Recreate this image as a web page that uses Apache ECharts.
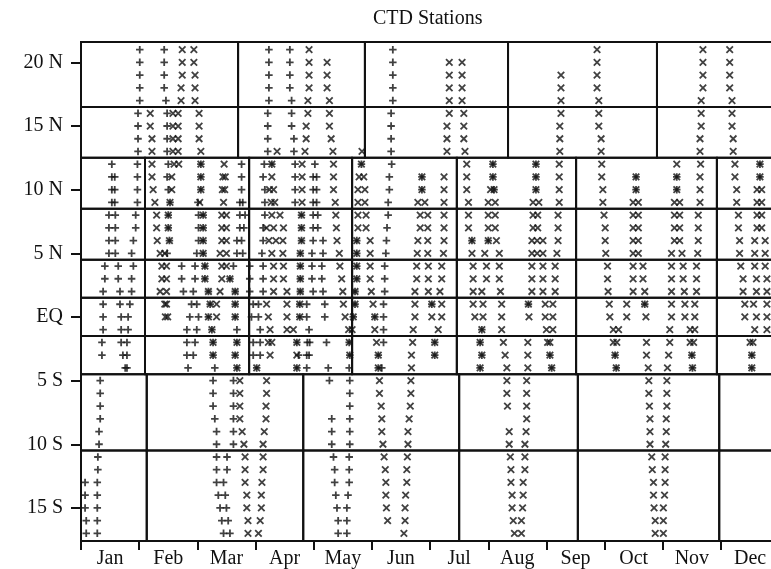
<!DOCTYPE html>
<html>
<head>
<meta charset="utf-8">
<script src="https://cdn.jsdelivr.net/npm/echarts@6/dist/echarts.min.js"></script>
<style>
  html, body { margin: 0; padding: 0; background: #ffffff; }
  #chart { width: 771px; height: 569px; }
</style>
</head>
<body>
<div id="chart"></div>
<script>
// Month names along the time axis (x in months from 1 January)
const months = ['Jan', 'Feb', 'Mar', 'Apr', 'May', 'Jun', 'Jul', 'Aug', 'Sep', 'Oct', 'Nov', 'Dec'];
// Latitude tick values (degrees, north positive)
const latTicks = [20, 15, 10, 5, 0, -5, -10, -15];
// Visible end of the time axis (the December column runs off the right edge)
const monthAxisEnd = 11.86;
// Latitude limits of the survey boxes, top to bottom
const bandEdges = [21.6, 16.5, 12.5, 8.5, 4.5, 1.5, -1.5, -4.5, -10.5, -17.6];
// Month positions of the box dividers in each latitude band
const northDividers = [2.70, 4.88, 7.34, 9.90];
const tropicDividers = [1.10, 2.89, 4.66, 6.46, 8.51, 10.93];
const southDividers = [1.13, 3.82, 6.50, 8.54, 10.97];
const bandDividers = [northDividers, northDividers, tropicDividers, tropicDividers,
  tropicDividers, tropicDividers, tropicDividers, southDividers, southDividers];

// '+' stations: [month, [latitudes]]
const plusStations = [
  // 12.5N - 21.5N
  [1.01, [21, 20, 19, 18, 17]], [0.98, [16, 15, 14, 13]],
  [1.43, [21, 20, 19, 18]], [1.46, [17]], [1.48, [16, 15, 14, 13]],
  [3.23, [21, 20, 19, 18, 17]], [3.21, [16, 15, 14, 13]],
  [3.59, [21, 20, 19, 18]], [3.62, [17, 16, 15]], [3.66, [14, 13]],
  [5.36, [21, 20, 19, 18, 17]], [5.33, [16, 15, 14, 13]],
  // 4.5S - 12.5N, January box
  [0.53, [12, 11, 10, 9]], [0.48, [8, 7, 6, 5]], [0.41, [4, 3]], [0.38, [2, 1, 0, -1]], [0.36, [-2, -3]],
  [0.58, [11, 10, 9]], [0.59, [8, 7, 6, 5]], [0.64, [4, 3]], [0.67, [2, 1]], [0.69, [0, -1, -2]], [0.72, [-3]], [0.76, [-4]],
  [0.97, [12, 11, 10, 9]], [0.94, [8, 7]], [0.90, [6, 4]], [0.87, [5, 3, 2]], [0.84, [1]], [0.81, [0, -1]], [0.79, [-2, -3, -4]],
  // February - March box
  [1.50, [12, 10]], [1.48, [11, 5]], [1.53, [9]], [1.50, [8, 7]], [1.52, [6]],
  [2.06, [12, 11, 10]], [2.01, [9]], [2.02, [8, 7, 6]], [1.99, [5]], [1.96, [4, 3]], [1.93, [2]],
  [1.99, [1]], [2.02, [0]], [1.99, [-1]], [1.96, [-2]], [1.93, [-3]],
  [2.10, [8, 7, 6, 5]], [2.13, [4, 3]], [2.19, [2, 0]], [2.22, [1]], [2.25, [-1]], [2.27, [-2, -3]], [2.30, [-4]],
  [1.73, [4, 3]], [1.76, [2]], [1.90, [1]], [1.87, [0]], [1.82, [-1, -2, -3]], [1.84, [-4]],
  [2.76, [12, 11, 10]], [2.73, [9, 8, 7]], [2.68, [6, 5]], [2.62, [4]], [2.56, [3]], [2.65, [2, 1, 0]],
  [2.68, [-1, -2]], [2.65, [-3]], [2.68, [-4]],
  [2.78, [9, 5]], [2.82, [8]], [2.80, [7]], [2.76, [6]], [2.90, [4, 3, 2]],
  // April box
  [3.15, [12]], [3.13, [11]], [3.16, [10, 9, 8]], [3.13, [7, 6, 4, 3, 2]], [3.11, [5]],
  [2.96, [1, -2, -3]], [2.93, [0]], [3.05, [1, 0]], [3.08, [-1, -2, -3]], [3.02, [-4]],
  [3.28, [12]], [3.68, [12, 11, 10, 9]],
  [3.79, [8, 7, 6]], [3.77, [5, 4, 3, 2]], [3.76, [1, 0]], [3.71, [-2, -4]], [3.74, [-3]],
  [3.88, [1, 0, -3, -4]], [3.92, [-1, -3]], [3.89, [-2]], [3.93, [-2]],
  [4.02, [12]], [3.99, [11, 10, 9, 8, 7, 6, 2]], [4.05, [11, 10, 9]], [4.07, [8, 7]], [3.97, [5, 4, 3]],
  [4.16, [6, 5, 2]], [4.14, [4, 3]], [4.19, [1, 0]], [4.22, [-2]], [4.25, [-4]],
  [4.71, [1]], [4.68, [0]], [4.61, [-2, -4]], [4.62, [-3]],
  // May - June box
  [4.82, [12]], [4.74, [6, 5, 4, 3]], [4.71, [2]],
  [5.34, [12]], [5.30, [11, 10]], [5.28, [9, 8]], [5.26, [7]], [5.25, [6]], [5.24, [5]],
  [5.22, [4, 3, 2]], [5.20, [1, 0, -1, -2]], [5.17, [-4]],
  [5.05, [0]], [5.11, [-3, -4]], [5.86, [11, 10]], [6.03, [1]], [6.08, [-2, -3]],
  // July - August box
  [7.08, [12, 11]], [7.10, [10]], [6.72, [6]], [7.00, [6]], [6.89, [-1, -3]], [6.86, [-2, -4]],
  [7.82, [12, 11, 10]], [7.69, [1]], [8.06, [-3]], [8.09, [-4]],
  // September - November box
  [9.54, [11, 10]], [10.24, [11, 10]], [9.69, [1]], [9.18, [-3]], [9.20, [-4]], [10.50, [-3]], [10.51, [-4]],
  // December box
  [11.67, [12, 11]], [11.53, [-3, -4]],
  // 17.5S - 4.5S
  [0.33, [-5, -6, -7, -8]], [0.31, [-9, -10]], [0.29, [-11, -12]], [0.28, [-13, -14, -15, -16, -17]],
  [0.07, [-13, -14, -15]], [0.09, [-16, -17]],
  [2.27, [-5, -6, -7]], [2.30, [-8]], [2.33, [-9, -10, -11, -12, -13]], [2.36, [-14]], [2.39, [-15]], [2.42, [-16]], [2.45, [-17]],
  [2.62, [-5, -6, -7, -8, -9, -10]], [2.51, [-11, -12]], [2.45, [-13]], [2.48, [-14]], [2.50, [-15]], [2.53, [-16]], [2.56, [-17]],
  [4.27, [-5]], [4.31, [-8, -9, -10]], [4.34, [-11]], [4.36, [-12, -13]], [4.38, [-14]], [4.40, [-15]], [4.42, [-16, -17]],
  [4.62, [-5, -6, -7, -8, -9, -10]], [4.61, [-11, -12, -13]], [4.59, [-14]], [4.57, [-15, -16, -17]]
];

// 'x' stations: [month, [latitudes]]
const crossStations = [
  // 12.5N - 21.5N
  [1.74, [21, 20, 19]], [1.72, [18, 17]], [1.94, [21, 20]], [1.96, [19, 18, 17]],
  [1.19, [16, 15]], [1.22, [14, 13]], [1.58, [16, 15, 14, 13]], [1.67, [16, 15, 14, 13]],
  [2.03, [16, 15, 14]], [2.06, [13]],
  [3.92, [21, 20, 19, 18]], [3.90, [17, 16]], [3.87, [15, 14]], [3.85, [13]],
  [4.23, [20, 19, 18]], [4.27, [17, 16, 15]], [4.30, [14]], [4.33, [13]], [3.37, [13]], [4.83, [13]],
  [6.33, [20, 19, 18, 17, 16]], [6.29, [15, 14, 13]],
  [6.55, [20, 19, 18, 17]], [6.58, [16, 15, 14]], [6.60, [13]],
  [8.25, [19, 18, 17, 16]], [8.23, [15, 14, 13]],
  [8.87, [21, 20, 19, 18]], [8.90, [17, 16, 15]], [8.94, [14, 13]],
  [10.69, [21, 20, 19, 18]], [10.66, [17, 16, 15]], [10.64, [14, 13]],
  [11.15, [21, 20, 19, 18]], [11.19, [17, 16, 15]], [11.21, [14, 13]],
  // February - March box
  [1.22, [12, 11]], [1.24, [10]], [1.27, [9]], [1.30, [8, 7]], [1.31, [6]], [1.36, [5, 2]], [1.39, [4, 3]],
  [1.60, [12]], [1.56, [11, 10]], [1.53, [9]], [1.50, [8, 7]], [1.52, [6]], [1.44, [5, 1]],
  [1.47, [4, 3, 2, 1]], [1.45, [0]], [1.49, [0]], [1.68, [12]],
  [2.06, [12, 11, 10]], [2.04, [9]], [2.10, [8, 7, 6, 5]], [2.13, [4, 3]], [2.19, [2, 0]], [2.22, [1]],
  [2.25, [-1]], [2.27, [-2, -3]],
  [2.46, [12]], [2.44, [11]], [2.48, [11]], [2.43, [10]], [2.47, [10]], [2.45, [9]],
  [2.42, [8, 7, 6, 4, 3]], [2.50, [8, 7, 6, 5, 4]], [2.39, [5, 2]], [2.33, [1, 0]],
  [2.56, [3]], [2.65, [2, 1, 0, -3]], [2.68, [-2, -4]],
  // April box
  [3.28, [12, 11]], [3.24, [10]], [3.31, [10]], [3.27, [9]], [3.33, [9]], [3.28, [8, 5]], [3.42, [8]],
  [3.19, [7, 1]], [3.31, [7, 4, 3, 2]], [3.48, [7, 4, 3]], [3.23, [6]], [3.35, [6]], [3.47, [6, 5]],
  [3.54, [2, 1, 0, -1]], [3.22, [0, -2]], [3.25, [-1, -3]], [3.28, [-2]], [3.65, [-1]], [3.02, [-4]],
  [3.80, [12, 11, 10, 9]], [3.79, [8, 7, 6]], [3.77, [5, 4, 3, 2]], [3.76, [1, 0]], [3.71, [-2, -3, -4]],
  [4.34, [12, 11, 10]], [4.37, [9]], [4.38, [8]], [4.39, [7]], [4.40, [6]], [4.44, [5]], [4.45, [4]],
  [4.48, [3]], [4.50, [2]], [4.51, [1]], [4.54, [0]],
  [4.71, [1]], [4.68, [0]], [4.60, [-1]], [4.66, [-1]], [4.61, [-2]], [4.62, [-3]],
  // May - June box
  [4.82, [12]], [4.78, [11]], [4.86, [11]], [4.76, [10, 9, 8, 7]], [4.88, [10, 9]], [4.90, [8, 7]],
  [4.74, [6, 5, 4, 3]], [4.71, [2]],
  [4.97, [6, 5, 4, 3]], [4.99, [2]], [5.02, [1]], [5.05, [0, -1]], [5.08, [-2]], [5.11, [-3, -4]],
  [5.86, [11, 10]], [5.79, [9, 6]], [5.91, [9]], [5.83, [8, 7]], [5.96, [8, 7, 6, 5]], [5.78, [5]],
  [5.77, [4, 3]], [5.97, [4, 3, 2]], [5.74, [2, 1, 0]], [5.71, [-1]], [5.70, [-2]], [5.68, [-3, -4]],
  [6.24, [11, 10, 9, 8, 7, 6]], [6.23, [5]], [6.20, [4, 3, 1, 0]], [6.17, [2]], [6.03, [1, 0]],
  [6.14, [-1]], [6.08, [-2, -3]],
  // July - August box
  [6.63, [12, 11, 10]], [6.66, [9, 8, 7]], [6.72, [6, 5]], [6.74, [4, 3, 2, 1]], [6.77, [0]],
  [6.91, [1, 0]], [6.89, [2, -1, -3]], [6.86, [-2, -4]],
  [7.08, [12, 11]], [7.04, [10]], [7.10, [10]], [7.00, [9, 8, 7, 6]], [7.12, [9, 8, 7]], [7.14, [6]],
  [6.94, [5]], [6.97, [4, 3]],
  [7.19, [5, 4, 3]], [7.21, [2]], [7.23, [1, 0, -1]], [7.26, [-2]], [7.29, [-3]], [7.32, [-4]],
  [7.82, [12, 11, 10]], [7.77, [9, 8, 7]], [7.87, [9]], [7.85, [8, 7]], [7.75, [6, 5, 4, 3, 2]],
  [7.84, [6, 5]], [7.94, [6, 5, 4, 3, 2]], [7.69, [1]], [7.70, [0]], [7.68, [-2, -3, -4]],
  [8.22, [12, 11, 10, 9]], [8.20, [8, 7, 6]], [8.18, [5]], [8.15, [4, 3, 2]],
  [7.98, [1, 0]], [8.11, [1, 0, -1]], [8.00, [-1]], [8.06, [-2, -3]], [8.02, [-2]], [8.09, [-4]],
  // September - November box
  [8.95, [12, 11]], [8.97, [10, 9]], [8.99, [8]], [9.01, [7, 6]], [9.02, [5]], [9.05, [4, 3]], [9.06, [2]],
  [9.08, [1]], [9.09, [0]], [9.15, [-1, -2]], [9.24, [-1]], [9.21, [-2]], [9.18, [-3]], [9.20, [-4]],
  [9.38, [1, 0]],
  [9.54, [11, 10]], [9.49, [9, 8, 7, 6, 5, 4, 3, 2]], [9.58, [9, 8, 7, 6, 5]], [9.66, [4, 3]],
  [9.69, [2, 1]], [9.71, [0]], [9.72, [-2, -3]], [9.75, [-4]],
  [10.24, [12, 11, 10]], [10.20, [9, 8, 7, 6]], [10.29, [9, 8, 7, 6]], [10.15, [5, 4, 3, 2, 1, 0]],
  [10.33, [5]], [10.35, [4, 3]], [10.37, [2]], [10.38, [1, 0]], [10.12, [-1, -2]], [10.10, [-3]], [10.08, [-4]],
  [10.65, [12]], [10.64, [11, 10, 9]], [10.61, [8, 7, 6]], [10.60, [5]], [10.58, [4, 3, 2]],
  [10.55, [1, 0, -1]], [10.47, [-1, -2]], [10.53, [-2]], [10.50, [-3]], [10.51, [-4]],
  // December box
  [11.24, [12, 11]], [11.27, [10, 9]], [11.30, [8, 7]], [11.32, [6, 5]], [11.34, [4]], [11.38, [3, 2]], [11.41, [1, 0]],
  [11.67, [12, 11]], [11.62, [10, 9, 8, 7]], [11.70, [10, 9, 8, 7]], [11.58, [6, 5, 4, -1]], [11.76, [6, 5, 4]],
  [11.61, [3, 2, 0]], [11.56, [1]], [11.79, [3, 2, 1, 0, -1]], [11.50, [-2]], [11.55, [-2]], [11.53, [-3, -4]],
  // 17.5S - 4.5S
  [2.73, [-5, -6, -7, -8]], [2.77, [-9]], [2.80, [-10]], [2.82, [-11, -12, -13]], [2.85, [-14, -15]], [2.87, [-16, -17]],
  [3.19, [-5, -6]], [3.18, [-7, -8]], [3.15, [-9]], [3.13, [-10, -11, -12]], [3.11, [-13]], [3.10, [-14, -15]],
  [3.08, [-16]], [3.05, [-17]],
  [5.13, [-5, -6]], [5.16, [-7]], [5.17, [-8, -9]], [5.19, [-10]], [5.21, [-11]], [5.23, [-12]],
  [5.24, [-13, -14]], [5.25, [-15]], [5.27, [-16]],
  [5.67, [-5, -6]], [5.66, [-7]], [5.64, [-8]], [5.62, [-9, -10]], [5.61, [-11]], [5.60, [-12, -13]],
  [5.58, [-14]], [5.57, [-15, -16]], [5.55, [-17]],
  [7.32, [-5, -6]], [7.33, [-7]], [7.36, [-9, -10]], [7.38, [-11]], [7.39, [-12, -13]], [7.41, [-14, -15]],
  [7.43, [-16]], [7.45, [-17]],
  [7.66, [-5, -6, -7, -8]], [7.65, [-9]], [7.63, [-10, -11, -12]], [7.60, [-13, -14]], [7.59, [-15]], [7.57, [-16, -17]],
  [9.76, [-5, -6]], [9.77, [-7]], [9.78, [-8, -9, -10]], [9.81, [-11]], [9.82, [-12]], [9.84, [-13, -14]],
  [9.85, [-15]], [9.87, [-16, -17]],
  [10.07, [-5, -6, -7]], [10.06, [-8, -9]], [10.05, [-10]], [10.04, [-11, -12, -13]], [10.03, [-14]], [10.01, [-15, -16, -17]]
];

// Flatten [month, [lats]] groups into scatter points
function toPoints(groups) {
  const pts = [];
  groups.forEach(function (g) { g[1].forEach(function (lat) { pts.push([g[0], lat]); }); });
  return pts;
}

// Survey boxes as [monthStart, monthEnd, latSouth, latNorth]
const boxes = [];
bandDividers.forEach(function (divs, i) {
  const edges = [0].concat(divs, [12]);
  for (let k = 0; k < edges.length - 1; k++) {
    boxes.push([edges[k], edges[k + 1], bandEdges[i + 1], bandEdges[i]]);
  }
});

// Month boundaries get ticks, month centres get the names
const monthStarts = months.map(function (m, i) { return i; });
const monthCentres = months.map(function (m, i) { return i + 0.5; });

const ink = '#111111';
const serif = '"Liberation Serif", "DejaVu Serif", serif';

function latLabel(v) {
  if (v === 0) return 'EQ';
  return v > 0 ? v + ' N' : (-v) + ' S';
}

const chart = echarts.init(document.getElementById('chart'), null, { renderer: 'canvas' });
chart.setOption({
  animation: false,
  backgroundColor: '#ffffff',
  title: {
    text: 'CTD Stations',
    left: 368,
    top: 4,
    textStyle: { fontFamily: serif, fontSize: 20, fontWeight: 'normal', color: ink }
  },
  grid: { left: 81, top: 42, right: 0, height: 501, containLabel: false },
  xAxis: {
    type: 'value',
    min: 0,
    max: monthAxisEnd,
    axisLine: { show: true, onZero: false, lineStyle: { color: ink, width: 2 } },
    axisTick: { show: true, length: 9, customValues: monthStarts, lineStyle: { color: ink, width: 2 } },
    axisLabel: {
      customValues: monthCentres,
      formatter: function (v) { return months[Math.floor(v)]; },
      color: ink, fontFamily: serif, fontSize: 20, margin: 8
    },
    splitLine: { show: false }
  },
  yAxis: {
    type: 'value',
    min: -17.6,
    max: 21.6,
    axisLine: { show: true, onZero: false, lineStyle: { color: ink, width: 2 } },
    axisTick: { show: true, length: 10, customValues: latTicks, lineStyle: { color: ink, width: 2 } },
    axisLabel: { customValues: latTicks, formatter: latLabel, color: ink, fontFamily: serif, fontSize: 20, margin: 18 },
    splitLine: { show: false }
  },
  series: [
    {
      type: 'custom',
      silent: true,
      clip: false,
      data: boxes,
      encode: { x: [0, 1], y: [2, 3] },
      renderItem: function (params, api) {
        const a = api.coord([api.value(0), api.value(3)]);
        const b = api.coord([api.value(1), api.value(2)]);
        return {
          type: 'rect',
          shape: { x: a[0], y: a[1], width: b[0] - a[0], height: b[1] - a[1] },
          style: { fill: 'none', stroke: ink, lineWidth: 2 }
        };
      }
    },
    {
      name: 'plus',
      type: 'scatter',
      silent: true,
      symbol: 'path://M5,0L5,10M0,5L10,5',
      symbolSize: 7.5,
      itemStyle: { color: 'rgba(0,0,0,0)', borderColor: ink, borderWidth: 1.8 },
      data: toPoints(plusStations)
    },
    {
      name: 'cross',
      type: 'scatter',
      silent: true,
      symbol: 'path://M0,0L10,10M10,0L0,10',
      symbolSize: 6.5,
      itemStyle: { color: 'rgba(0,0,0,0)', borderColor: ink, borderWidth: 1.8 },
      data: toPoints(crossStations)
    }
  ]
});
</script>
</body>
</html>
